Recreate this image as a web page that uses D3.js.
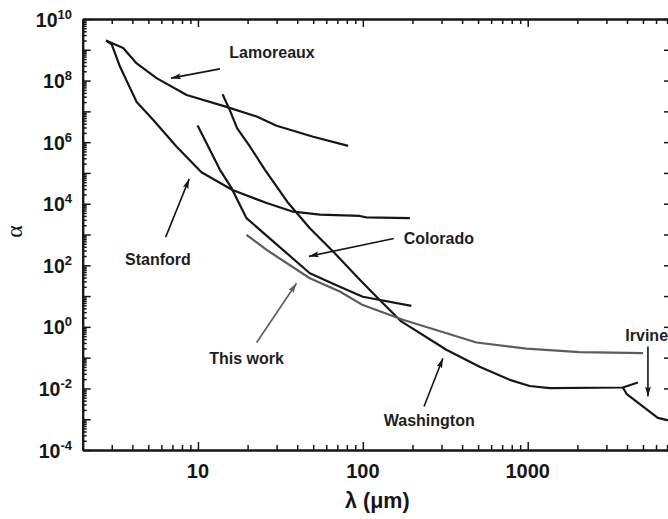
<!DOCTYPE html>
<html><head><meta charset="utf-8">
<script src="https://cdn.jsdelivr.net/npm/d3@7/dist/d3.min.js"></script>
<style>
html,body{margin:0;padding:0;background:#fff;}
svg{display:block;}
</style></head>
<body>
<svg id="chart" width="668" height="519"></svg>
<script>
// ---------- data (λ in µm, α dimensionless) ----------
const lamoreauxLambda = [2.77, 3.52, 4.25, 5.61, 8.54, 14.9, 22.7, 30.0, 50.0, 81.5];
const lamoreauxAlpha  = [2.0e9, 1.15e9, 3.6e8, 1.2e8, 3.4e7, 1.4e7, 6.8e6, 3.4e6, 1.5e6, 7.6e5];

const stanfordLambda = [2.77, 3.0, 3.37, 3.87, 4.25, 5.36, 7.43, 10.5, 16.2, 26.1, 37.8, 54.9, 95.8, 105, 193];
const stanfordAlpha  = [2.0e9, 1.5e9, 2.8e8, 5.8e7, 2.0e7, 5.2e6, 7.1e5, 1.05e5, 2.8e4, 1.05e4, 5.5e3, 4.4e3, 4.0e3, 3.6e3, 3.4e3];

const coloradoLambda = [9.95, 13.6, 16.0, 19.7, 47.7, 72.5, 100, 197];
const coloradoAlpha  = [3.5e6, 1.26e5, 3.2e4, 3.4e3, 55, 20, 9.5, 4.8];

const washingtonLambda = [14.1, 15.6, 17.3, 20.7, 25.5, 35.3, 47.7, 67.6, 95.9, 121, 171, 321, 511, 778, 1028, 1358, 3776, 4659];
const washingtonAlpha  = [3.6e7, 1.1e7, 2.8e6, 7.1e5, 1.26e5, 1.05e4, 1.6e3, 245, 34, 9.5, 1.5, 0.18, 0.051, 0.019, 0.012, 0.0102, 0.0107, 0.0155];

const irvineLambda = [3776, 3990, 6150, 6920, 7500];
const irvineAlpha  = [0.0107, 0.0065, 0.0011, 0.00095, 0.00091];

const thisWorkLambda = [19.7, 26.1, 47.7, 72.5, 100, 175, 489, 982, 2065, 5000];
const thisWorkAlpha  = [980, 316, 38, 14, 5.1, 1.7, 0.31, 0.195, 0.151, 0.141];

const xTickLabels = [10, 100, 1000];
const yTickExponents = [10, 8, 6, 4, 2, 0, -2, -4];

// annotation labels and arrows (data coordinates)
const labelNames = ["Lamoreaux", "Stanford", "Colorado", "This work", "Washington", "Irvine"];
const labelLambda = [15.5, 3.61, 177, 11.7, 134, 3910];
const labelAlpha  = [5.6e8, 1.0e2, 4.9e2, 0.062, 6.1e-4, 0.36];

const arrowFromLambda = [13.6, 6.37, 154, 22.7, 235, 5360];
const arrowFromAlpha  = [2.4e8, 8.2e2, 7.4e2, 0.31, 2.6e-3, 0.23];
const arrowToLambda   = [6.86, 8.85, 47.1, 39.6, 306, 5360];
const arrowToAlpha    = [1.2e8, 6.4e4, 195, 26, 0.096, 0.0055];
const arrowGray       = [false, false, false, true, false, false];

// ---------- layout ----------
const svg = d3.select("#chart");
const L = 82.7, R = 672, T = 19, B = 450;
const x = d3.scaleLog().domain([2, 7500]).range([L, R]);
const y = d3.scaleLog().domain([1e-4, 1e10]).range([B, T]);

const black = "#161616", gray = "#5c5c5c";

// ticks
const xMajor = [10, 100, 1000];
const xMinor = [];
for (let e = 0; e <= 3; e++) for (let m = 1; m <= 9; m++) {
  const v = m * Math.pow(10, e);
  if (v > 2 && v <= 7500 && m !== 1) xMinor.push(v);
}
const yMajor = d3.range(-4, 11).map(e => Math.pow(10, e));
const yMinor = [];
for (let e = -4; e < 10; e++) for (let m = 2; m <= 9; m++) yMinor.push(m * Math.pow(10, e));

function styleAxis(g) {
  g.select(".domain").attr("stroke", black).attr("stroke-width", 2);
  g.selectAll(".tick line").attr("stroke", black).attr("stroke-width", 1.5);
  g.selectAll(".tick text").remove();
}

// bottom
svg.append("g").attr("transform", `translate(0,${B})`)
  .call(d3.axisBottom(x).tickValues(xMinor).tickSizeInner(-5).tickSizeOuter(0).tickFormat(""))
  .call(styleAxis);
svg.append("g").attr("transform", `translate(0,${B})`)
  .call(d3.axisBottom(x).tickValues(xMajor).tickSizeInner(-8).tickSizeOuter(0).tickFormat(""))
  .call(styleAxis);
// top
svg.append("g").attr("transform", `translate(0,${T})`)
  .call(d3.axisTop(x).tickValues(xMinor).tickSizeInner(-5).tickSizeOuter(0).tickFormat(""))
  .call(styleAxis);
svg.append("g").attr("transform", `translate(0,${T})`)
  .call(d3.axisTop(x).tickValues(xMajor).tickSizeInner(-8).tickSizeOuter(0).tickFormat(""))
  .call(styleAxis);
// left
svg.append("g").attr("transform", `translate(${L},0)`)
  .call(d3.axisLeft(y).tickValues(yMinor).tickSizeInner(-4).tickSizeOuter(0).tickFormat(""))
  .call(styleAxis);
svg.append("g").attr("transform", `translate(${L},0)`)
  .call(d3.axisLeft(y).tickValues(yMajor).tickSizeInner(-8).tickSizeOuter(0).tickFormat(""))
  .call(styleAxis);
// right
svg.append("g").attr("transform", `translate(${R},0)`)
  .call(d3.axisRight(y).tickValues(yMinor).tickSizeInner(-4).tickSizeOuter(0).tickFormat(""))
  .call(styleAxis);
svg.append("g").attr("transform", `translate(${R},0)`)
  .call(d3.axisRight(y).tickValues(yMajor).tickSizeInner(-8).tickSizeOuter(0).tickFormat(""))
  .call(styleAxis);

// x tick labels
svg.append("g").selectAll("text").data(xTickLabels).join("text")
  .attr("x", d => x(d)).attr("y", B + 27.5)
  .attr("text-anchor", "middle")
  .attr("font-family", "Liberation Sans, Arial, sans-serif")
  .attr("font-weight", "bold").attr("font-size", 20).attr("fill", black)
  .text(d => d);

// y tick labels with superscripts
const yl = svg.append("g").selectAll("text").data(yTickExponents).join("text")
  .attr("x", 72).attr("y", d => y(Math.pow(10, d)) + 7.5)
  .attr("text-anchor", "end")
  .attr("font-family", "Liberation Sans, Arial, sans-serif")
  .attr("font-weight", "bold").attr("font-size", 19.5).attr("fill", black);
yl.append("tspan").text("10");
yl.append("tspan").attr("font-size", 13).attr("dy", -8).text(d => d);

// axis titles
svg.append("text").attr("x", (L + R) / 2).attr("y", 508)
  .attr("text-anchor", "middle")
  .attr("font-family", "Liberation Sans, Arial, sans-serif")
  .attr("font-weight", "bold").attr("font-size", 21.5).attr("fill", black)
  .text("λ (μm)");
svg.append("text")
  .attr("transform", `translate(22,${(T + B) / 2 - 3}) rotate(-90)`)
  .attr("text-anchor", "middle")
  .attr("font-family", "Liberation Serif, Times New Roman, serif")
  .attr("font-size", 24).attr("fill", black)
  .text("α");

// curves
const line = d3.line().x(d => x(d[0])).y(d => y(d[1]));
const series = [
  {lam: lamoreauxLambda, a: lamoreauxAlpha, c: black},
  {lam: stanfordLambda, a: stanfordAlpha, c: black},
  {lam: coloradoLambda, a: coloradoAlpha, c: black},
  {lam: washingtonLambda, a: washingtonAlpha, c: black},
  {lam: irvineLambda, a: irvineAlpha, c: black},
  {lam: thisWorkLambda, a: thisWorkAlpha, c: gray}
];
svg.append("g").selectAll("path").data(series).join("path")
  .attr("d", s => line(s.lam.map((v, i) => [v, s.a[i]])))
  .attr("fill", "none").attr("stroke", s => s.c)
  .attr("stroke-width", 2.2).attr("stroke-linejoin", "round");

// arrow markers
const defs = svg.append("defs");
[["ab", black], ["ag", gray]].forEach(([id, col]) => {
  defs.append("marker").attr("id", id)
    .attr("viewBox", "0 0 10 6").attr("refX", 10).attr("refY", 3)
    .attr("markerWidth", 10).attr("markerHeight", 6)
    .attr("markerUnits", "userSpaceOnUse").attr("orient", "auto")
    .append("path").attr("d", "M0,0 L10,3 L0,6 L2,3 Z").attr("fill", col);
});
svg.append("g").selectAll("line").data(labelNames).join("line")
  .attr("x1", (d, i) => x(arrowFromLambda[i])).attr("y1", (d, i) => y(arrowFromAlpha[i]))
  .attr("x2", (d, i) => x(arrowToLambda[i])).attr("y2", (d, i) => y(arrowToAlpha[i]))
  .attr("stroke", (d, i) => arrowGray[i] ? gray : black)
  .attr("stroke-width", 1.6)
  .attr("marker-end", (d, i) => arrowGray[i] ? "url(#ag)" : "url(#ab)");

// labels
svg.append("g").selectAll("text").data(labelNames).join("text")
  .attr("x", (d, i) => x(labelLambda[i])).attr("y", (d, i) => y(labelAlpha[i]))
  .attr("font-family", "Liberation Sans, Arial, sans-serif")
  .attr("font-weight", "bold").attr("font-size", 16).attr("fill", "#1e1e1e")
  .text(d => d);
</script>
</body></html>
